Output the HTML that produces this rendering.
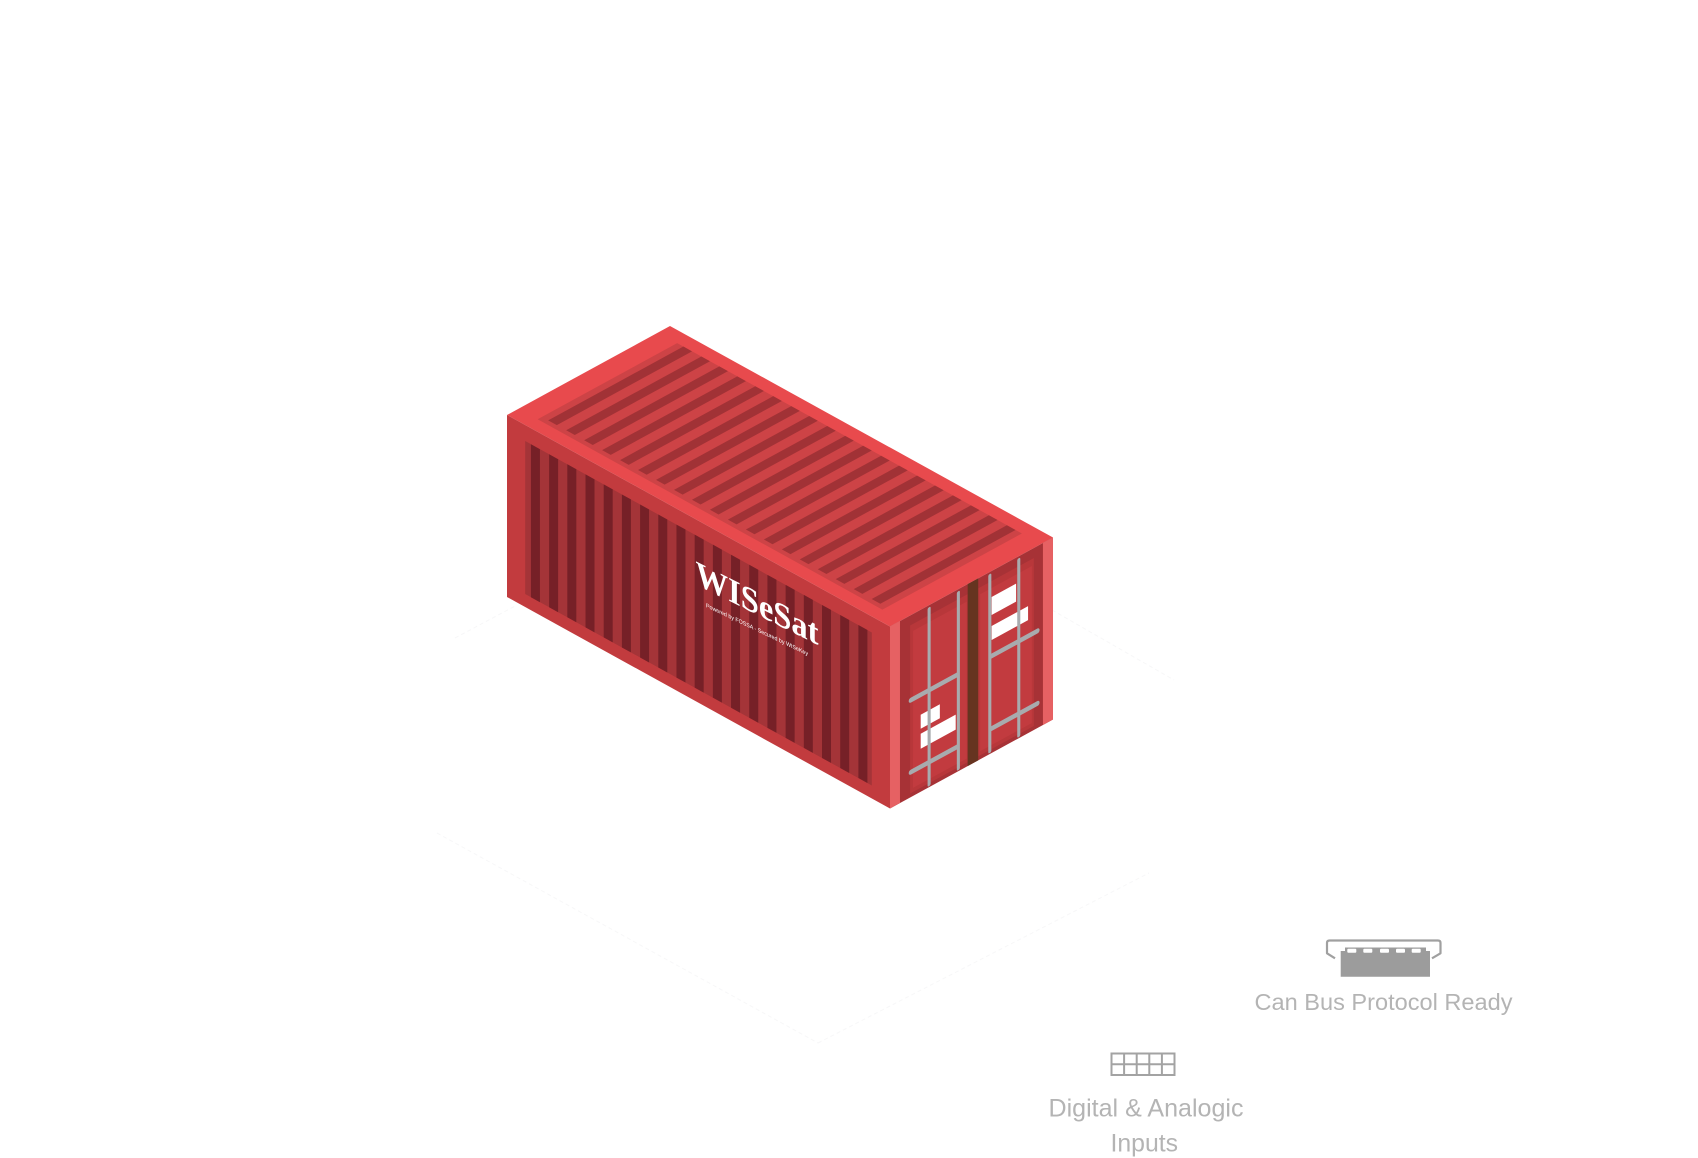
<!DOCTYPE html>
<html>
<head>
<meta charset="utf-8">
<style>
  html,body{margin:0;padding:0;background:#ffffff;}
  svg{display:block;}
</style>
</head>
<body>
<svg width="1698" height="1158" viewBox="0 0 1698 1158" xmlns="http://www.w3.org/2000/svg">
  <rect width="1698" height="1158" fill="#ffffff"/>

  <!-- faint ground plane -->
  <g stroke="#f7f7f8" stroke-width="1" fill="none" stroke-dasharray="4 3">
    <line x1="437" y1="833" x2="818" y2="1043"/>
    <line x1="818" y1="1043" x2="1149" y2="873"/>
    <line x1="1052" y1="610" x2="1174" y2="680"/>
    <line x1="455" y1="638" x2="517" y2="605"/>
  </g>

  <!-- TOP FACE -->
  <g transform="matrix(0.9575 0.52875 -0.95882 0.52353 670 326)">
    <rect x="0" y="0" width="400" height="170" fill="#e84a4d"/>
    <rect x="20" y="12.5" width="360" height="145.5" fill="#cd4346"/>
    <g fill="#a13236">
      <rect x="26.5" y="12.5" width="9" height="141"/>
      <rect x="45.27" y="12.5" width="9" height="141"/>
      <rect x="64.04" y="12.5" width="9" height="141"/>
      <rect x="82.81" y="12.5" width="9" height="141"/>
      <rect x="101.58" y="12.5" width="9" height="141"/>
      <rect x="120.35" y="12.5" width="9" height="141"/>
      <rect x="139.12" y="12.5" width="9" height="141"/>
      <rect x="157.89" y="12.5" width="9" height="141"/>
      <rect x="176.66" y="12.5" width="9" height="141"/>
      <rect x="195.43" y="12.5" width="9" height="141"/>
      <rect x="214.2" y="12.5" width="9" height="141"/>
      <rect x="232.97" y="12.5" width="9" height="141"/>
      <rect x="251.74" y="12.5" width="9" height="141"/>
      <rect x="270.51" y="12.5" width="9" height="141"/>
      <rect x="289.28" y="12.5" width="9" height="141"/>
      <rect x="308.05" y="12.5" width="9" height="141"/>
      <rect x="326.82" y="12.5" width="9" height="141"/>
      <rect x="345.59" y="12.5" width="9" height="141"/>
      <rect x="364.36" y="12.5" width="9" height="141"/>
    </g>
  </g>

  <!-- LONG SIDE FACE -->
  <g transform="matrix(0.9575 0.52875 0 1 507 415)">
    <rect x="0" y="0" width="400" height="182" fill="#c23b3e"/>
    <rect x="19" y="16" width="362" height="153" fill="#a43438"/>
    <g fill="#762027">
      <rect x="25" y="16" width="9.4" height="153"/>
      <rect x="44" y="16" width="9.4" height="153"/>
      <rect x="63" y="16" width="9.4" height="153"/>
      <rect x="82" y="16" width="9.4" height="153"/>
      <rect x="101" y="16" width="9.4" height="153"/>
      <rect x="120" y="16" width="9.4" height="153"/>
      <rect x="139" y="16" width="9.4" height="153"/>
      <rect x="158" y="16" width="9.4" height="153"/>
      <rect x="177" y="16" width="9.4" height="153"/>
      <rect x="196" y="16" width="9.4" height="153"/>
      <rect x="215" y="16" width="9.4" height="153"/>
      <rect x="234" y="16" width="9.4" height="153"/>
      <rect x="253" y="16" width="9.4" height="153"/>
      <rect x="272" y="16" width="9.4" height="153"/>
      <rect x="291" y="16" width="9.4" height="153"/>
      <rect x="310" y="16" width="9.4" height="153"/>
      <rect x="329" y="16" width="9.4" height="153"/>
      <rect x="348" y="16" width="9.4" height="153"/>
      <rect x="367" y="16" width="9.4" height="153"/>
    </g>
  </g>

  <!-- LOGO on side face -->
  <g transform="translate(695.5,584) skewY(26.5)">
    <text x="0" y="0" font-family="'Liberation Serif', serif" font-size="35" font-weight="bold" fill="#ffffff" textLength="123" lengthAdjust="spacingAndGlyphs">WISeSat</text>
  </g>
  <g transform="translate(706,607) skewY(25.5)">
    <text x="0" y="0" font-family="'Liberation Sans', sans-serif" font-size="5.8" fill="#ffffff" textLength="102" lengthAdjust="spacingAndGlyphs">Powered by FOSSA - Secured by WISeKey</text>
  </g>

  <!-- END (DOOR) FACE -->
  <g transform="matrix(0.95882 -0.52353 0 1 890 626.5)">
    <rect x="0" y="0" width="170" height="182" fill="#a73236"/>
    <rect x="0" y="0" width="10.4" height="182" fill="#e66163"/>
    <rect x="159.5" y="0" width="10.5" height="182" fill="#e66163"/>
    <rect x="21" y="10" width="60" height="168" fill="#b8373a"/>
    <rect x="24" y="17" width="56" height="157" fill="#c23b3f"/>
    <rect x="92" y="10" width="58" height="168" fill="#b8373a"/>
    <rect x="94" y="17" width="54" height="157" fill="#c23b3f"/>
    <rect x="81" y="0" width="11" height="182" fill="#663420"/>
    <!-- white labels -->
    <g fill="#ffffff">
      <rect x="32" y="105" width="20" height="14"/>
      <rect x="32" y="124" width="36.5" height="15"/>
      <rect x="106" y="26" width="25.5" height="18"/>
      <rect x="106" y="55" width="38" height="14"/>
    </g>
    <!-- handles -->
    <g stroke="#a8abae" stroke-width="5" stroke-linecap="round">
      <line x1="22" y1="85" x2="70" y2="85"/>
      <line x1="22" y1="157" x2="70" y2="157"/>
      <line x1="105.5" y1="85" x2="153.5" y2="85"/>
      <line x1="105.5" y1="157.5" x2="153.5" y2="157.5"/>
    </g>
    <!-- bars -->
    <g fill="#a8abae">
      <rect x="39.2" y="2" width="3.2" height="179" rx="1.5"/>
      <rect x="69.7" y="2" width="3.2" height="179" rx="1.5"/>
      <rect x="102.5" y="2" width="3.2" height="179" rx="1.5"/>
      <rect x="132.7" y="2" width="3.2" height="179" rx="1.5"/>
    </g>
  </g>

  <!-- CAN BUS ICON -->
  <path d="M1335,958.3 L1327,953.3 L1327,943 Q1327,940.5 1329.5,940.5 L1438,940.5 Q1440.5,940.5 1440.5,943 L1440.5,953.3 L1432,958.3" fill="none" stroke="#a0a0a0" stroke-width="2.2" stroke-linejoin="round"/>
  <polygon points="1340.7,951 1345,951 1345,947.5 1426,947.5 1426,951 1430,951 1430,976.7 1340.7,976.7" fill="#9c9c9c"/>
  <g fill="#ffffff">
    <rect x="1347.3" y="948.8" width="9" height="4" rx="1"/>
    <rect x="1363.3" y="948.8" width="9" height="4" rx="1"/>
    <rect x="1380" y="948.8" width="9" height="4" rx="1"/>
    <rect x="1396" y="948.8" width="9" height="4" rx="1"/>
    <rect x="1411.7" y="948.8" width="9" height="4" rx="1"/>
  </g>
  <text x="1254.5" y="1010" font-family="'Liberation Sans', sans-serif" font-size="23.5" fill="#b4b4b4" textLength="258" lengthAdjust="spacingAndGlyphs">Can Bus Protocol Ready</text>

  <!-- DIGITAL INPUTS ICON -->
  <g fill="none" stroke="#a3a3a3" stroke-width="2">
    <rect x="1111.5" y="1053.5" width="63" height="21.5"/>
    <line x1="1111.5" y1="1064.25" x2="1174.5" y2="1064.25"/>
    <line x1="1124.1" y1="1053.5" x2="1124.1" y2="1075"/>
    <line x1="1136.7" y1="1053.5" x2="1136.7" y2="1075"/>
    <line x1="1149.3" y1="1053.5" x2="1149.3" y2="1075"/>
    <line x1="1161.9" y1="1053.5" x2="1161.9" y2="1075"/>
  </g>
  <text x="1048.5" y="1116.7" font-family="'Liberation Sans', sans-serif" font-size="24.8" fill="#b4b4b4" textLength="195" lengthAdjust="spacingAndGlyphs">Digital &amp; Analogic</text>
  <text x="1110.5" y="1151.7" font-family="'Liberation Sans', sans-serif" font-size="24.8" fill="#b4b4b4">Inputs</text>
</svg>
</body>
</html>
